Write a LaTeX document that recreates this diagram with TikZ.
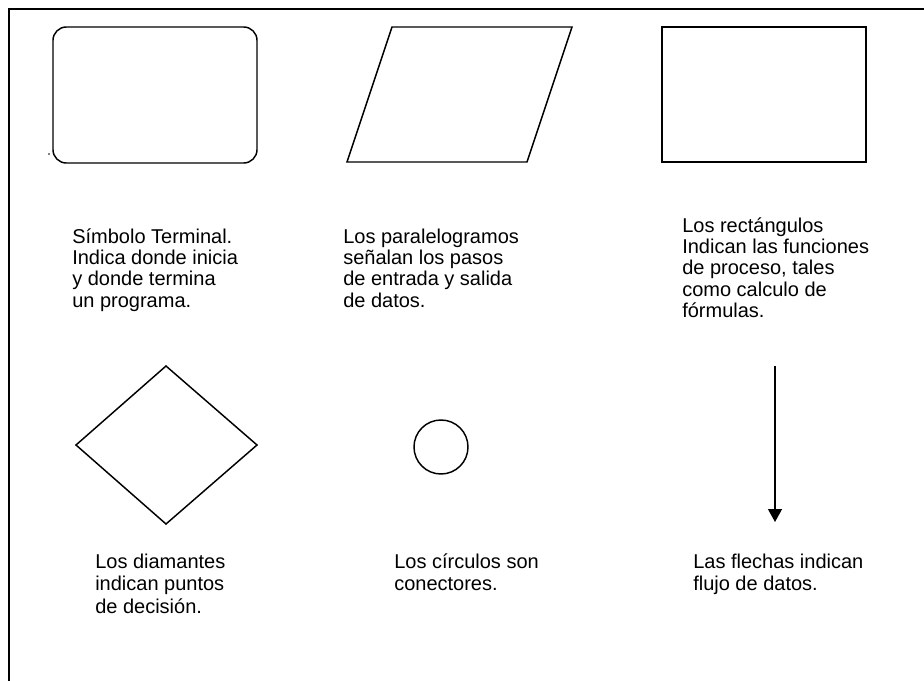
\documentclass[tikz,border=0pt]{standalone}
\usepackage{fontspec}
\setmainfont{Liberation Sans}
\usetikzlibrary{arrows.meta}
\newcommand{\txtblock}[1]{\vtop{\lineskiplimit=-100pt\halign{##\hfil\cr#1\crcr}}}
\tikzset{
  frameline/.style={line width=1.5pt},
  shapeline/.style={line width=1.1pt},
  desc/.style={anchor=base west, inner sep=0pt, font=\fontsize{15}{16}\selectfont},
  descb/.style={anchor=base west, inner sep=0pt, font=\fontsize{15}{16.9}\selectfont},
}
\begin{document}
\begin{tikzpicture}[x=0.75pt,y=-0.75pt]
\useasboundingbox (0,0) rectangle (924,681);
% frame (left and top only)
\draw[frameline] (9,681) -- (9,9) -- (924,9);
% terminal symbol
\draw[shapeline, rounded corners=10pt] (53,27) rectangle (257,163);
\fill (49,154) circle (0.9);
% parallelogram
\draw[shapeline] (392,27) -- (572,27) -- (527,162) -- (347,162) -- cycle;
% rectangle
\draw[shapeline] (662,27) rectangle (866,162);
% diamond
\draw[shapeline] (166,366) -- (257,445) -- (166,524) -- (76,445) -- cycle;
% circle
\draw[shapeline] (441,447) circle (27);
% arrow
\coordinate (arrtop) at (775,366);
\coordinate (arrbot) at (775,522);
\draw[line width=1pt, -{Triangle[length=9.75pt,width=10.5pt]}] (arrtop) -- (arrbot);
% texts
\node[desc] (t1) at (72,243) {\txtblock{S\'imbolo Terminal.\cr Indica donde inicia\cr y donde termina\cr un programa.}};
\node[desc] (t2) at (343,243) {\txtblock{Los paralelogramos\cr se\~nalan los pasos\cr de entrada y salida\cr de datos.}};
\node[desc] (t3) at (682,232) {\txtblock{Los rect\'angulos\cr Indican las funciones\cr de proceso, tales\cr como calculo de\cr f\'ormulas.}};
\node[descb] (t4) at (95,568) {\txtblock{Los diamantes\cr indican puntos\cr de decisi\'on.}};
\node[descb] (t5) at (394,568) {\txtblock{Los c\'irculos son\cr conectores.}};
\node[descb] (t6) at (693,568) {\txtblock{Las flechas indican\cr flujo de datos.}};
\end{tikzpicture}
\end{document}
